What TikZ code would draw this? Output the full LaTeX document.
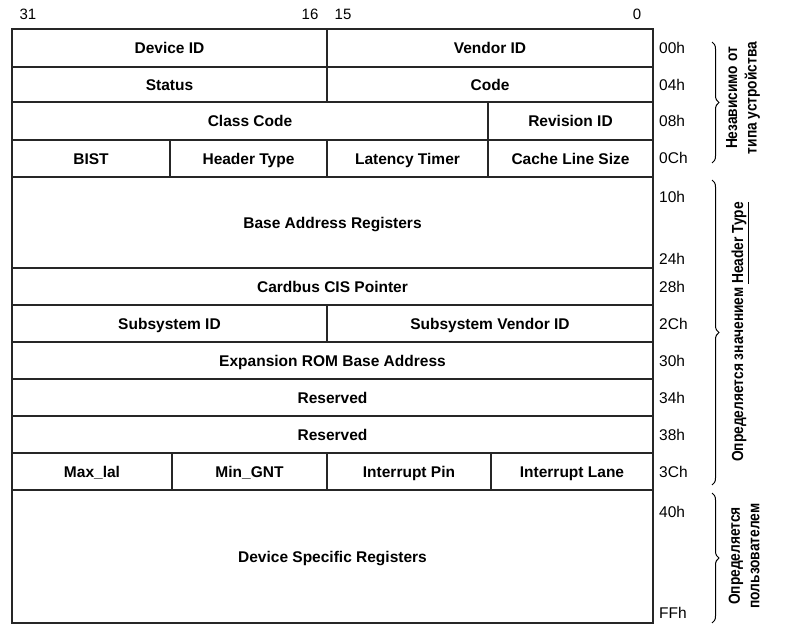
\documentclass[tikz,border=0pt]{standalone}
\usepackage{fontspec}
\setmainfont{Liberation Sans}
\newfontfamily\narrowfont[FakeStretch=0.86]{Liberation Sans}
\usetikzlibrary{decorations.pathreplacing}
\tikzset{
  cell/.style={draw=black!85,line width=1.2pt,inner sep=0pt,outer sep=0pt,
    text height=11pt,text depth=0pt,font=\fontsize{15.5}{17}\selectfont\bfseries},
  offs/.style={anchor=west,inner sep=0pt,font=\fontsize{15.5}{17}\selectfont},
  bitno/.style={inner sep=0pt,font=\fontsize{15}{17}\selectfont},
  grp/.style={decorate,decoration={brace,amplitude=7pt},line width=1pt},
  note/.style={rotate=90,align=center,inner sep=0pt,font=\narrowfont\fontsize{16}{19.5}\selectfont\bfseries},
}
\newcommand{\regcell}[6]{%
  \node[cell,minimum width={#4-#2},minimum height={#5-#3}] (#1) at ({(#2+#4)/2},{(#3+#5)/2}) {#6};}

\begin{document}
\begin{tikzpicture}[x=1pt,y=-1pt]
  \useasboundingbox (0,0) rectangle (791,632);
  % bit numbers
  \node[bitno] (b31) at (28,14) {31};
  \node[bitno] (b16) at (310,14) {16};
  \node[bitno] (b15) at (343,14) {15};
  \node[bitno] (b0) at (637,14) {0};
  % header registers
  \regcell{devid}{12}{29}{327}{67}{Device ID}
  \regcell{vendid}{327}{29}{653}{67}{Vendor ID}
  \regcell{status}{12}{67}{327}{102}{Status}
  \regcell{cmd}{327}{67}{653}{102}{Code}
  \regcell{class}{12}{102}{488}{140}{Class Code}
  \regcell{rev}{488}{102}{653}{140}{Revision ID}
  \regcell{bist}{12}{140}{170}{177}{BIST}
  \regcell{hdr}{170}{140}{327}{177}{Header Type}
  \regcell{lat}{327}{140}{488}{177}{Latency Timer}
  \regcell{cache}{488}{140}{653}{177}{Cache Line Size}
  \regcell{bar}{12}{177}{653}{268}{Base Address Registers}
  \regcell{cis}{12}{268}{653}{305}{Cardbus CIS Pointer}
  \regcell{subid}{12}{305}{327}{342}{Subsystem ID}
  \regcell{subvid}{327}{305}{653}{342}{Subsystem Vendor ID}
  \regcell{rom}{12}{342}{653}{379}{Expansion ROM Base Address}
  \regcell{resA}{12}{379}{653}{416}{Reserved}
  \regcell{resB}{12}{416}{653}{453}{Reserved}
  \regcell{maxlat}{12}{453}{172}{490}{Max\_lal}
  \regcell{mingnt}{172}{453}{327}{490}{Min\_GNT}
  \regcell{intpin}{327}{453}{491}{490}{Interrupt Pin}
  \regcell{intline}{491}{453}{653}{490}{Interrupt Lane}
  \regcell{devspec}{12}{490}{653}{623}{Device Specific Registers}
  % offsets
  \foreach \lbl/\y in {00h/48,04h/85,08h/121,0Ch/158,10h/197,24h/259,28h/287,
      2Ch/324,30h/361,34h/398,38h/435,3Ch/472,40h/512,FFh/613}{
    \node[offs] (off\lbl) at (659,\y) {\lbl};
  }
  % groups
  \coordinate (gA1) at (712,42);  \coordinate (gA2) at (712,163);
  \coordinate (gB1) at (712,180); \coordinate (gB2) at (712,485);
  \coordinate (gC1) at (712,493); \coordinate (gC2) at (712,623);
  \draw[grp] (gA1) -- (gA2);
  \draw[grp] (gB1) -- (gB2);
  \draw[grp] (gC1) -- (gC2);
  \node[note] (noteA) at (743,98) {Независимо от\\типа устройства};
  \node[note] (noteB) at (740,332) {Определяется значением \underline{Header Type}};
  \node[note] (noteC) at (744,556) {Определяется\\пользователем};
\end{tikzpicture}
\end{document}
